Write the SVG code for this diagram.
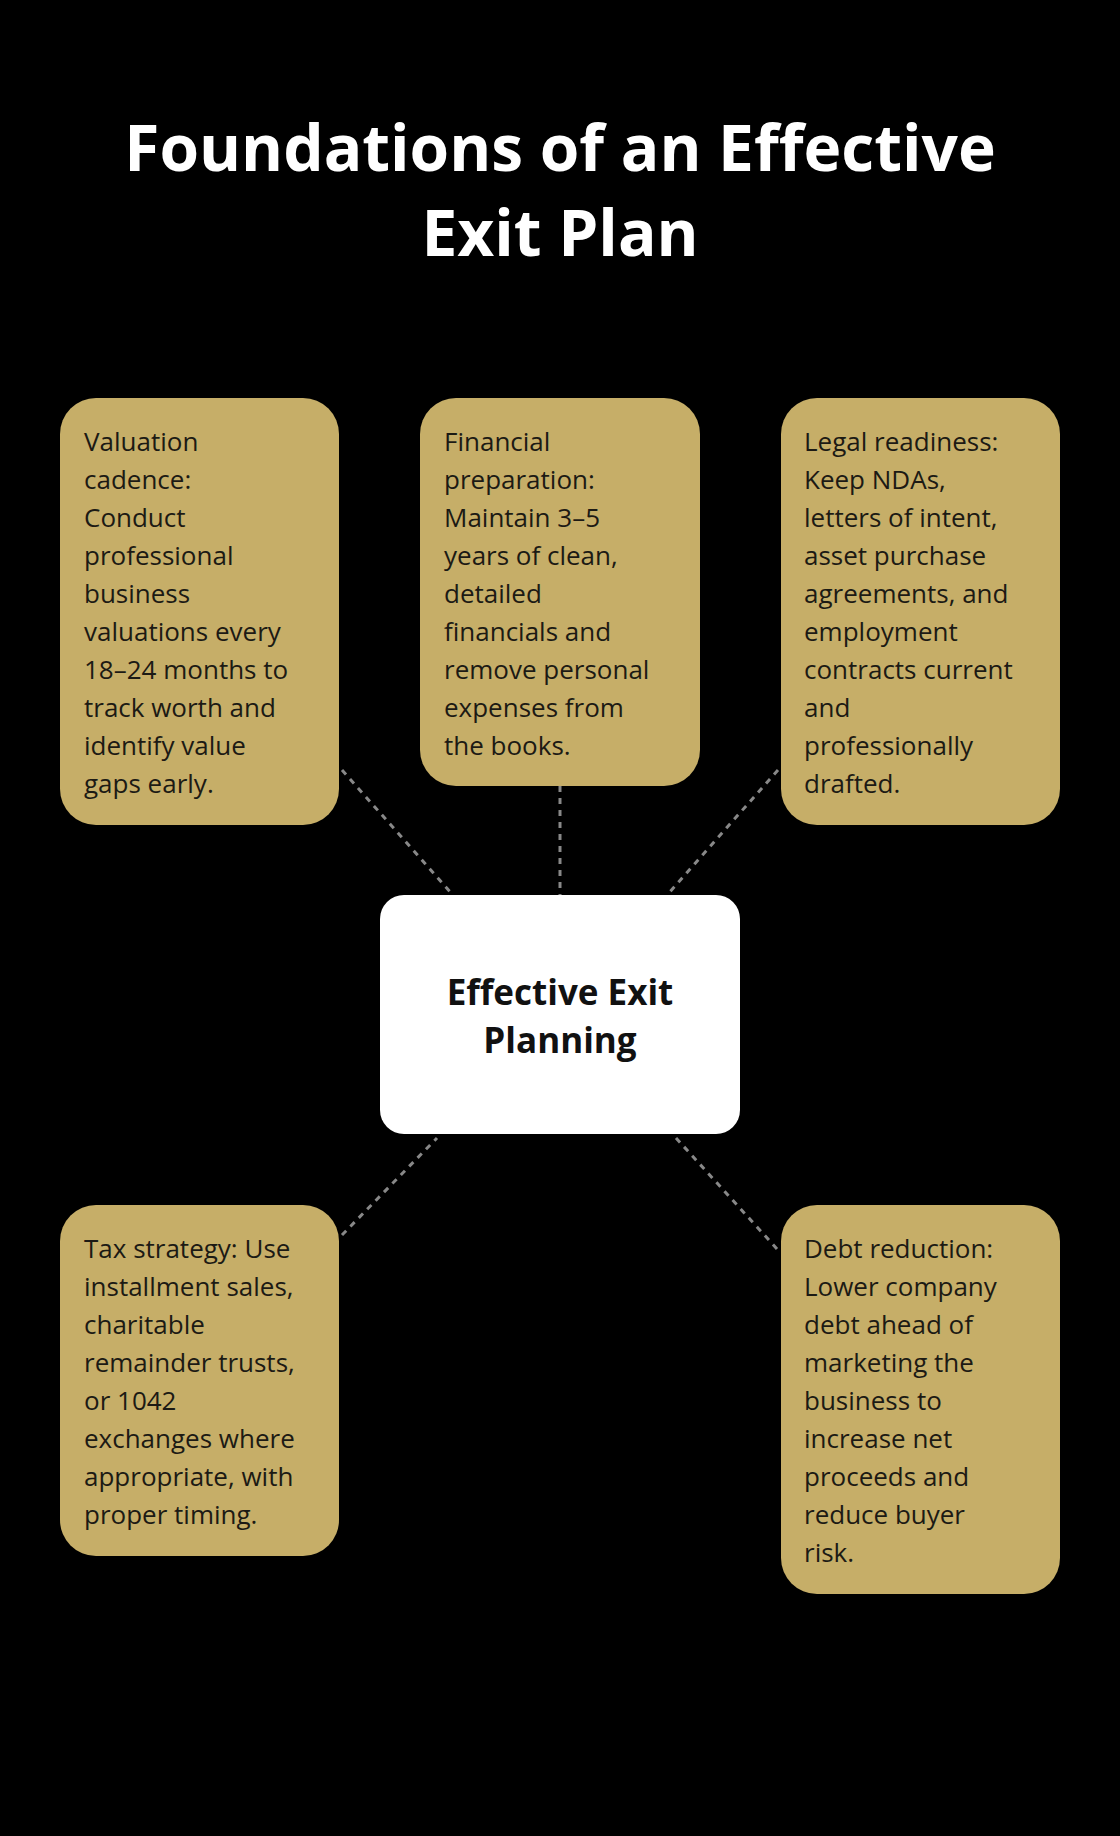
<svg xmlns="http://www.w3.org/2000/svg" width="1120" height="1836" viewBox="0 0 1120 1836">
<style>
.box{fill:#c6ae68}
.t{font-family:"Open Sans","Noto Sans",sans-serif;font-size:26px;fill:#1c1a14}
.c{stroke:#888;stroke-width:3;stroke-dasharray:6 6;fill:none}
.title{font-family:"Open Sans","Noto Sans",sans-serif;font-size:64px;font-weight:bold;fill:#fff;text-anchor:middle}
.ct{font-family:"Open Sans","Noto Sans",sans-serif;font-size:35px;font-weight:bold;fill:#111;text-anchor:middle}
</style>
<rect width="1120" height="1836" fill="#000"/>
<text class="title" x="560" y="171">Foundations of an Effective</text>
<text class="title" x="560" y="256">Exit Plan</text>
<g id="connectors">
<line class="c" x1="342" y1="770" x2="453" y2="895"/>
<line class="c" x1="560" y1="786" x2="560" y2="895"/>
<line class="c" x1="778" y1="770" x2="667" y2="895"/>
<line class="c" x1="342" y1="1235" x2="437" y2="1138"/>
<line class="c" x1="676" y1="1138" x2="778" y2="1250"/>
</g>
<g id="center"><rect x="380" y="895" width="360" height="239" rx="24" fill="#fff"/>
<text class="ct" x="560" y="1005">Effective Exit</text><text class="ct" x="560" y="1053">Planning</text></g>
<g id="valuation"><rect class="box" x="60" y="398" width="279" height="427" rx="36"/>
<text class="t"><tspan x="84" y="451">Valuation</tspan><tspan x="84" y="489">cadence:</tspan><tspan x="84" y="527">Conduct</tspan><tspan x="84" y="565">professional</tspan><tspan x="84" y="603">business</tspan><tspan x="84" y="641">valuations every</tspan><tspan x="84" y="679">18–24 months to</tspan><tspan x="84" y="717">track worth and</tspan><tspan x="84" y="755">identify value</tspan><tspan x="84" y="793">gaps early.</tspan></text></g>
<g id="financial"><rect class="box" x="420" y="398" width="280" height="388" rx="36"/>
<text class="t"><tspan x="444" y="451">Financial</tspan><tspan x="444" y="489">preparation:</tspan><tspan x="444" y="527">Maintain 3–5</tspan><tspan x="444" y="565">years of clean,</tspan><tspan x="444" y="603">detailed</tspan><tspan x="444" y="641">financials and</tspan><tspan x="444" y="679">remove personal</tspan><tspan x="444" y="717">expenses from</tspan><tspan x="444" y="755">the books.</tspan></text></g>
<g id="legal"><rect class="box" x="781" y="398" width="279" height="427" rx="36"/>
<text class="t"><tspan x="804" y="451">Legal readiness:</tspan><tspan x="804" y="489">Keep NDAs,</tspan><tspan x="804" y="527">letters of intent,</tspan><tspan x="804" y="565">asset purchase</tspan><tspan x="804" y="603">agreements, and</tspan><tspan x="804" y="641">employment</tspan><tspan x="804" y="679">contracts current</tspan><tspan x="804" y="717">and</tspan><tspan x="804" y="755">professionally</tspan><tspan x="804" y="793">drafted.</tspan></text></g>
<g id="tax"><rect class="box" x="60" y="1205" width="279" height="351" rx="36"/>
<text class="t"><tspan x="84" y="1258">Tax strategy: Use</tspan><tspan x="84" y="1296">installment sales,</tspan><tspan x="84" y="1334">charitable</tspan><tspan x="84" y="1372">remainder trusts,</tspan><tspan x="84" y="1410">or 1042</tspan><tspan x="84" y="1448">exchanges where</tspan><tspan x="84" y="1486">appropriate, with</tspan><tspan x="84" y="1524">proper timing.</tspan></text></g>
<g id="debt"><rect class="box" x="781" y="1205" width="279" height="389" rx="36"/>
<text class="t"><tspan x="804" y="1258">Debt reduction:</tspan><tspan x="804" y="1296">Lower company</tspan><tspan x="804" y="1334">debt ahead of</tspan><tspan x="804" y="1372">marketing the</tspan><tspan x="804" y="1410">business to</tspan><tspan x="804" y="1448">increase net</tspan><tspan x="804" y="1486">proceeds and</tspan><tspan x="804" y="1524">reduce buyer</tspan><tspan x="804" y="1562">risk.</tspan></text></g>
</svg>
